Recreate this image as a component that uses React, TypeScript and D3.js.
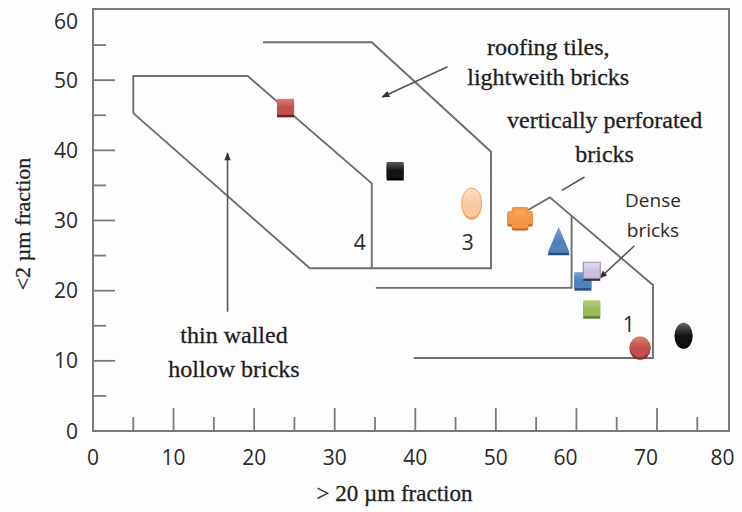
import React from "react";
import * as d3 from "d3";

// ---- data (x = >20 µm fraction %, y = <2 µm fraction %) ----
const sampleIds = ["s1", "s2", "s3", "s4", "s5", "s6", "s7", "s8", "s9", "s10"];
const sampleCoarse = [23.9, 37.5, 47.0, 53.0, 57.8, 60.8, 61.9, 61.9, 67.9, 73.3];
const sampleClay = [46.2, 37.2, 32.5, 30.4, 27.1, 21.5, 22.9, 17.5, 12.0, 13.7];
const sampleShape = ["square", "square", "ellipse", "plus", "triangle", "square", "square", "square", "circle", "ellipse"];

// zone boundaries (data units)
const zoneHollowRoof: [number, number][] = [
  [21.1, 55.4], [34.6, 55.4], [49.4, 39.8], [49.4, 23.2], [26.9, 23.2],
  [5.0, 45.3], [5.0, 50.6], [19.2, 50.6], [34.6, 35.3], [34.6, 23.2],
];
const zonePerforated: [number, number][] = [[35.1, 20.4], [59.4, 20.4], [59.4, 30.6]];
const zoneDense: [number, number][] = [[54.0, 31.5], [56.7, 33.3], [69.5, 20.8], [69.5, 10.4], [39.8, 10.4]];

// annotation leaders (data units) [from, to]
const arrowRoof: [number, number][] = [[44.0, 51.9], [35.9, 47.6]];
const arrowHollow: [number, number][] = [[16.7, 17.0], [16.7, 39.6]];
const arrowDense: [number, number][] = [[67.2, 26.4], [62.9, 21.8]];
const leaderPerforated: [number, number][] = [[58.2, 34.3], [61.0, 36.2]];

// annotation texts: [text, x, y]
const serifLabels: [string, number, number][] = [
  ["roofing tiles,", 56.5, 53.6],
  ["lightweith bricks", 56.5, 49.3],
  ["vertically perforated", 63.5, 43.2],
  ["bricks", 63.5, 38.4],
  ["thin walled", 17.5, 12.5],
  ["hollow bricks", 17.5, 7.7],
];
const sansLabels: [string, number, number][] = [
  ["Dense", 69.5, 31.9],
  ["bricks", 69.5, 27.6],
  ["4", 33.1, 25.8],
  ["3", 46.5, 25.8],
  ["1", 66.5, 14.1],
];

const xTickValues = [0, 10, 20, 30, 40, 50, 60, 70, 80];
const yTickValues = [0, 10, 20, 30, 40, 50, 60];
const xMinorTicks = [5, 15, 25, 35, 45, 55, 65, 75];
const yMinorTicks = [5, 15, 25, 35, 45, 55];

const xTitle = "> 20 µm fraction";
const yTitle = "<2 µm fraction";

const W = 742;
const H = 512;
const LEFT = 93;
const BOTTOM = 431;
const TOP = 9;
const RIGHT = 729;

const x = d3.scaleLinear().domain([0, 80]).range([LEFT, LEFT + 80 * 8.057]);
const y = d3.scaleLinear().domain([0, 60]).range([BOTTOM, 10]);

const line = d3
  .line<[number, number]>()
  .x((d) => x(d[0]))
  .y((d) => y(d[1]));

const LINE_COL = "#6e6e6e";
const SERIF = "'Liberation Serif', 'Times New Roman', serif";
const SANS = "'Open Sans', 'DejaVu Sans', sans-serif";

type Sty = { top: string; base: string; shadow: string; stroke?: string };
const styles: Sty[] = [
  { top: "#e07d7a", base: "#c0504d", shadow: "#6e1f1d" },
  { top: "#5a5a5a", base: "#151515", shadow: "#000" },
  { top: "#fde0c8", base: "#f9c9a0", shadow: "#f0a060", stroke: "#f2a868" },
  { top: "#fbb07a", base: "#f79646", shadow: "#c0601c" },
  { top: "#7aa2d6", base: "#4f81bd", shadow: "#254f80" },
  { top: "#7aa2d6", base: "#4f81bd", shadow: "#254f80" },
  { top: "#e6def0", base: "#ccc0da", shadow: "#333", stroke: "#9a88b8" },
  { top: "#b5d07c", base: "#9bbb59", shadow: "#5f7a2a" },
  { top: "#e07d7a", base: "#c0504d", shadow: "#8a2a28" },
  { top: "#666", base: "#111", shadow: "#000" },
];

function Marker({ shape, cx, cy, idx }: { shape: string; cx: number; cy: number; idx: number }) {
  const s = styles[idx];
  const fill = `url(#g${idx})`;
  const stroke = s.stroke || "none";
  if (shape === "square") {
    const w = 17, h = 16;
    return (
      <g>
        <rect x={cx - w / 2} y={cy - h / 2 + 2.5} width={w} height={h} fill={s.shadow} />
        <rect x={cx - w / 2} y={cy - h / 2} width={w} height={h} fill={fill} stroke={stroke} strokeWidth={1} />
        <line x1={cx - w / 2 + 1} x2={cx + w / 2 - 1} y1={cy} y2={cy} stroke={s.base} strokeOpacity={0.5} />
      </g>
    );
  }
  if (shape === "ellipse") {
    const rx = idx === 2 ? 10 : 9, ry = idx === 2 ? 15 : 12;
    return (
      <g>
        <ellipse cx={cx} cy={cy + 2} rx={rx} ry={ry} fill={s.shadow} />
        <ellipse cx={cx} cy={cy} rx={rx} ry={ry} fill={fill} stroke={stroke} strokeWidth={1} />
      </g>
    );
  }
  if (shape === "circle") {
    return (
      <g>
        <ellipse cx={cx} cy={cy + 2} rx={10.5} ry={11} fill={s.shadow} />
        <ellipse cx={cx} cy={cy} rx={10.5} ry={10.5} fill={fill} />
      </g>
    );
  }
  if (shape === "triangle") {
    const p = (dy: number) => `M${cx},${cy - 14 + dy} L${cx + 11},${cy + 12 + dy} L${cx - 11},${cy + 12 + dy} Z`;
    return (
      <g>
        <path d={p(2.5)} fill={s.shadow} />
        <path d={p(0)} fill={fill} />
      </g>
    );
  }
  // plus (rounded, thick arms)
  const a = 11, b = 9, c = 6.5, e = 5;
  const pts = (dy: number) =>
    [
      [-c, -b], [c, -b], [c, -e], [a, -e], [a, e], [c, e], [c, b], [-c, b], [-c, e], [-a, e], [-a, -e], [-c, -e],
    ]
      .map((p) => `${cx + p[0]},${cy + p[1] + dy}`)
      .join(" ");
  return (
    <g>
      <polygon points={pts(2)} fill={s.shadow} strokeLinejoin="round" stroke={s.shadow} strokeWidth={3.5} />
      <polygon points={pts(0)} fill={fill} strokeLinejoin="round" stroke={s.base} strokeWidth={3.5} />
    </g>
  );
}

export default function App() {
  return (
    <svg width={W} height={H} style={{ position: "absolute", left: 0, top: 0, background: "#fff" }}>
      <defs>
        {styles.map((s, i) => (
          <linearGradient key={i} id={`g${i}`} x1="0" y1="0" x2="0" y2="1">
            <stop offset="0" stopColor={s.top} />
            <stop offset="0.55" stopColor={s.base} />
            <stop offset="1" stopColor={s.base} />
          </linearGradient>
        ))}
        <marker id="arr" viewBox="0 0 10 10" refX="9" refY="5" markerWidth="9" markerHeight="8" orient="auto" markerUnits="userSpaceOnUse">
          <path d="M0,1 L10,5 L0,9 Z" fill="#333" />
        </marker>
      </defs>
      <rect width={W} height={H} fill="#fdfdfd" />

      {/* frame */}
      <path
        d={`M${LEFT},${BOTTOM} L${LEFT},${TOP} L${RIGHT},${TOP} L${RIGHT},${BOTTOM} Z`}
        fill="none"
        stroke="#7a7a7a"
        strokeWidth={2}
      />

      {/* ticks */}
      {xTickValues.filter((v) => v > 0 && v < 80).map((v) => (
        <line key={`xt${v}`} x1={x(v)} x2={x(v)} y1={BOTTOM} y2={BOTTOM - 23} stroke="#7a7a7a" strokeWidth={1.8} />
      ))}
      {xMinorTicks.map((v) => (
        <line key={`xm${v}`} x1={x(v)} x2={x(v)} y1={BOTTOM} y2={BOTTOM - 14} stroke="#7a7a7a" strokeWidth={1.8} />
      ))}
      {yTickValues.filter((v) => v > 0 && v < 60).map((v) => (
        <line key={`yt${v}`} x1={LEFT} x2={LEFT + 22} y1={y(v)} y2={y(v)} stroke="#7a7a7a" strokeWidth={1.8} />
      ))}
      {yMinorTicks.map((v) => (
        <line key={`ym${v}`} x1={LEFT} x2={LEFT + 13} y1={y(v)} y2={y(v)} stroke="#7a7a7a" strokeWidth={1.8} />
      ))}

      {/* tick labels */}
      {xTickValues.map((v) => (
        <text key={`xl${v}`} x={x(v) - (v >= 60 ? 11 : 0) - (v === 80 ? 4 : 0)} y={BOTTOM + 34} textAnchor="middle" fontFamily={SANS} fontSize={21} fill="#2a2a2a">
          {v}
        </text>
      ))}
      {yTickValues.map((v) => (
        <text key={`yl${v}`} x={78} y={Math.max(y(v), 21)} dy="0.36em" textAnchor="end" fontFamily={SANS} fontSize={21} fill="#2a2a2a">
          {v}
        </text>
      ))}

      {/* axis titles */}
      <text x={394.5} y={501} textAnchor="middle" fontFamily={SERIF} fontSize={23} fill="#222" stroke="#222" strokeWidth={0.3}>
        {xTitle}
      </text>
      <text transform="translate(30,224) rotate(-90)" textAnchor="middle" fontFamily={SERIF} fontSize={22} fill="#222" stroke="#222" strokeWidth={0.3}>
        {yTitle}
      </text>

      {/* zones */}
      {[zoneHollowRoof, zonePerforated, zoneDense].map((z, i) => (
        <path key={`z${i}`} d={line(z) || ""} fill="none" stroke={LINE_COL} strokeWidth={1.9} />
      ))}

      {/* leaders */}
      {[arrowRoof, arrowHollow, arrowDense].map((a, i) => (
        <path key={`a${i}`} d={line(a) || ""} fill="none" stroke="#555" strokeWidth={1.6} markerEnd="url(#arr)" />
      ))}
      <path d={line(leaderPerforated) || ""} fill="none" stroke="#555" strokeWidth={1.6} />

      {/* labels */}
      {serifLabels.map(([t, lx, ly], i) => (
        <text key={`sl${i}`} x={x(lx)} y={y(ly)} textAnchor="middle" fontFamily={SERIF} fontSize={24} fill="#1e1e1e" stroke="#1e1e1e" strokeWidth={0.3}>
          {t}
        </text>
      ))}
      {sansLabels.map(([t, lx, ly], i) => (
        <text key={`nl${i}`} x={x(lx)} y={y(ly)} textAnchor="middle" fontFamily={SANS} fontSize={i < 2 ? 19 : 21} fill="#2a2a2a">
          {t}
        </text>
      ))}

      {/* samples */}
      {sampleIds.map((id, i) => (
        <Marker key={id} shape={sampleShape[i]} cx={x(sampleCoarse[i])} cy={y(sampleClay[i])} idx={i} />
      ))}
    </svg>
  );
}
